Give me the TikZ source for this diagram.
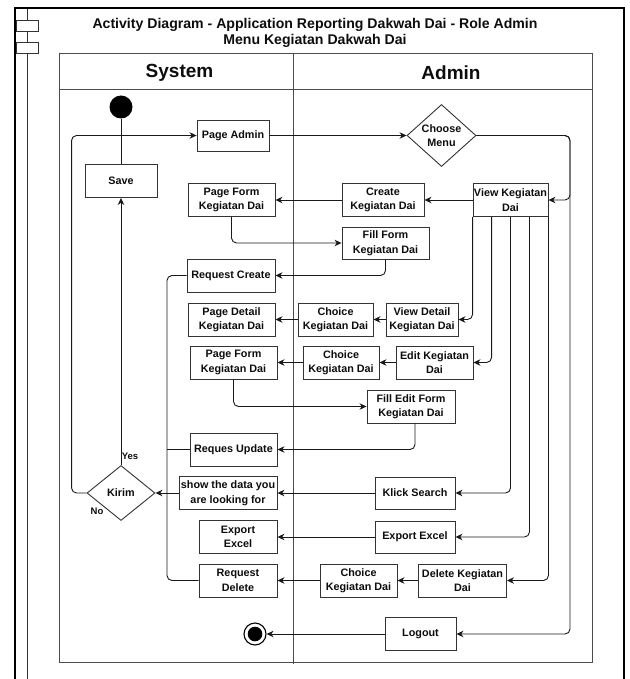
\documentclass[tikz,border=0pt]{standalone}
\usepackage{fontspec}
\setmainfont{Liberation Sans}
\usetikzlibrary{arrows.meta,shapes.geometric}

\begin{document}
\begin{tikzpicture}[x=1pt,y=-1pt,
  every node/.style={font=\fontsize{10.8}{14.5}\selectfont\bfseries, text=black!95},
  act/.style={draw=black!80, line width=0.9pt, fill=white, align=center,
    inner sep=0pt, minimum height=33pt},
  decide/.style={diamond, draw=black!80, line width=0.9pt, fill=white,
    align=center, inner sep=0pt},
  flow/.style={draw=black!90, line width=0.9pt, rounded corners=5pt,
    -{Stealth[length=7pt,width=6.5pt,inset=2.2pt]}},
  link/.style={draw=black!90, line width=0.9pt, rounded corners=5pt},
  lane/.style={draw=black!70, line width=0.9pt},
  startnode/.style={circle, fill=black, minimum size=23pt, inner sep=0pt},
  endnode/.style={circle, draw=black, line width=1.1pt, fill=white,
    minimum size=22pt, inner sep=0pt,
    path picture={\fill[black] (path picture bounding box.center) circle (7.3pt);}},
  guard/.style={font=\fontsize{9.5}{10}\selectfont\bfseries}
]
\useasboundingbox (0,0) rectangle (629,679);

% component frame
\draw[line width=0.8pt, black!80] (27,8) -- (27,681);
\draw[line width=0.8pt, black!80, fill=white] (16,20) rectangle (38,31);
\draw[line width=0.8pt, black!80, fill=white] (16,42) rectangle (38,53);
\draw[line width=2.4pt, line join=miter] (15,681) -- (15,8) -- (624,8) -- (624,681);

% title
\node[font=\fontsize{14.1}{16}\selectfont\bfseries, align=center] (title) at (315,33)
  {Activity Diagram - Application Reporting Dakwah Dai - Role Admin\\Menu Kegiatan Dakwah Dai};

% swimlanes
\draw[lane] (59,53) rectangle (592,662);
\draw[lane] (59,89) -- (592,89);
\draw[lane] (293,53) -- (293,664);
\node[font=\fontsize{19}{20}\selectfont\bfseries] (syslane) at (179.5,73) {System};
\node[font=\fontsize{19}{20}\selectfont\bfseries] (admlane) at (451,73) {Admin};

% System lane
\node[startnode] (init) at (121,107) {};
\node[act, minimum width=72pt] (save) at (121,181) {Save};
\node[act, minimum width=72pt, minimum height=31pt] (pageadmin) at (233,135.5) {Page Admin};
\node[act, minimum width=87pt] (pform1) at (231.5,200) {Page Form\\Kegiatan Dai};
\node[act, minimum width=88pt] (reqcreate) at (231,275.5) {Request Create};
\node[act, minimum width=87pt] (pdetail) at (231.5,319.5) {Page Detail\\Kegiatan Dai};
\node[act, minimum width=87pt] (pform2) at (233.5,362.5) {Page Form\\Kegiatan Dai};
\node[act, minimum width=87pt] (requpdate) at (233.5,449.5) {Reques Update};
\node[decide, minimum width=68pt, minimum height=55pt] (kirim) at (121,493) {Kirim};
\node[act, minimum width=98pt] (showdata) at (228,493) {show the data you\\are looking for};
\node[act, minimum width=78pt] (exportsys) at (238,537) {Export\\Excel};
\node[act, minimum width=78pt] (reqdelete) at (238,580.5) {Request\\Delete};
\node[endnode] (final) at (255,634) {};

% Admin lane
\node[decide, minimum width=69pt, minimum height=60pt] (menu) at (441.5,135.5) {Choose\\Menu};
\node[act, minimum width=75pt] (viewkeg) at (510.5,200) {View Kegiatan\\Dai};
\node[act, minimum width=82pt] (create) at (383,200) {Create\\Kegiatan Dai};
\node[act, minimum width=87pt, minimum height=32pt] (fillform) at (385.5,243) {Fill Form\\Kegiatan Dai};
\node[act, minimum width=72pt] (viewdetail) at (422,319.5) {View Detail\\Kegiatan Dai};
\node[act, minimum width=75pt] (choice1) at (335.5,319.5) {Choice\\Kegiatan Dai};
\node[act, minimum width=77pt] (editkeg) at (434.5,362.5) {Edit Kegiatan\\Dai};
\node[act, minimum width=76pt] (choice2) at (341,362.5) {Choice\\Kegiatan Dai};
\node[act, minimum width=88pt] (filledit) at (411,406.5) {Fill Edit Form\\Kegiatan Dai};
\node[act, minimum width=80pt, minimum height=32pt] (klick) at (415,493) {Klick Search};
\node[act, minimum width=80pt, minimum height=32pt] (exportadm) at (415,537) {Export Excel};
\node[act, minimum width=88pt] (deletekeg) at (462.5,580.5) {Delete Kegiatan\\Dai};
\node[act, minimum width=77pt] (choice3) at (358.5,580.5) {Choice\\Kegiatan Dai};
\node[act, minimum width=71pt] (logout) at (420.5,634) {Logout};

% junction points of the merged lines
\coordinate (rbus) at (570,135.5);
\coordinate (lbus) at (167,493);

% connectors
\draw[link] (init) -- (save);
\draw[flow] (kirim.north) -- (save.south);
\node[guard] (yes) at (130,456) {Yes};
\draw[flow] (kirim.west) -- ++(-15,0) |- (pageadmin.west);
\node[guard] (no) at (97,511) {No};
\draw[flow] (pageadmin.east) -- (menu.west);
\draw[flow] (menu.east) -- (rbus) |- (viewkeg.east);
\draw[flow] (menu.east) -- (rbus) |- (logout.east);
\draw[flow] (viewkeg.west) -- (create.east);
\draw[flow] (create.west) -- (pform1.east);
\draw[flow] (pform1.south) |- (fillform.west);
\draw[flow] (fillform.south) |- (reqcreate.east);
\draw[link] (reqcreate.west) -| (lbus);
\draw[link] (requpdate.west) -- (requpdate.west -| lbus);
\draw[link] (reqdelete.west) -| (lbus);
\draw[flow] (showdata.west) -- (kirim.east);

\draw[flow] (viewkeg.south west) |- (viewdetail.east);
\draw[flow] ([xshift=19pt]viewkeg.south west) |- (editkeg.east);
\draw[flow] (viewkeg.south) |- (klick.east);
\draw[flow] ([xshift=-19pt]viewkeg.south east) |- (exportadm.east);
\draw[flow] (viewkeg.south east) |- (deletekeg.east);

\draw[flow] (viewdetail.west) -- (choice1.east);
\draw[flow] (choice1.west) -- (pdetail.east);
\draw[flow] (editkeg.west) -- (choice2.east);
\draw[flow] (choice2.west) -- (pform2.east);
\draw[flow] (pform2.south) |- (filledit.west);
\draw[flow] ([xshift=4pt]filledit.south) |- (requpdate.east);
\draw[flow] (klick.west) -- (showdata.east);
\draw[flow] (exportadm.west) -- (exportsys.east);
\draw[flow] (deletekeg.west) -- (choice3.east);
\draw[flow] (choice3.west) -- (reqdelete.east);
\draw[flow] (logout.west) -- (final.east);
\end{tikzpicture}
\end{document}
